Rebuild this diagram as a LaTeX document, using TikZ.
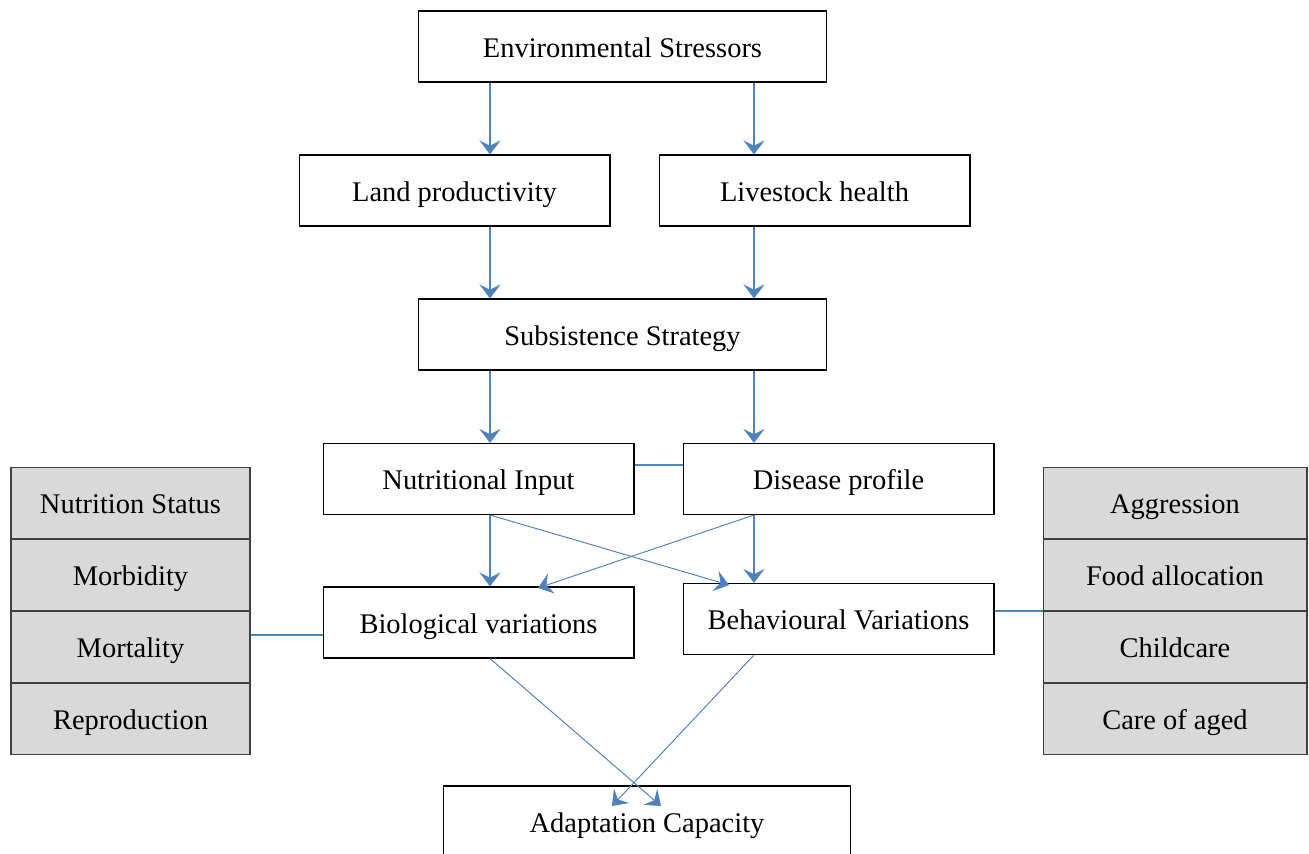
\documentclass[tikz,border=0pt]{standalone}
\usepackage{fontspec}
\setmainfont{Liberation Serif}
\usepackage{tikz}
\usetikzlibrary{positioning, arrows.meta}
\definecolor{linkblue}{HTML}{4F81BD}
\definecolor{cellgray}{HTML}{D9D9D9}

\begin{document}
\begin{tikzpicture}[x=0.02cm, y=-0.02cm,
  box/.style={draw, line width=0.6pt, minimum width=6.22cm, minimum height=1.42cm,
    inner sep=0pt, text height=12.5pt, text depth=0.5pt, font=\fontsize{16.2}{19}\selectfont},
  widebox/.style={box, minimum width=8.18cm},
  cellL/.style={draw=black!75, line width=0.6pt, fill=cellgray, minimum width=4.78cm,
    minimum height=1.42cm, inner sep=0pt, text height=12.5pt, text depth=0.5pt,
    font=\fontsize{16.2}{19}\selectfont},
  cellR/.style={cellL, minimum width=5.28cm},
  flow/.style={linkblue, line width=0.85pt, -{Stealth[length=8pt, width=12pt, inset=3pt]}},
  thinflow/.style={flow, line width=0.55pt},
  tie/.style={linkblue, line width=0.7pt}]
\useasboundingbox (0,0) rectangle (1309,854);

% columns of the vertical arrows
\coordinate (colL) at (490,0);
\coordinate (colR) at (754,0);

% main chain
\node[widebox] (env)   at (622.5,46.5)  {Environmental Stressors};
\node[box]     (land)  at (454.5,190.5) {Land productivity};
\node[box]     (live)  at (814.5,190.5) {Livestock health};
\node[widebox] (subs)  at (622.5,334.5) {Subsistence Strategy};
\node[box]     (nutr)  at (478.5,479)   {Nutritional Input};
\node[box]     (dis)   at (838.5,479)   {Disease profile};
\node[box]     (bio)   at (478.5,622.5) {Biological variations};
\node[box]     (behav) at (838.5,619)   {Behavioural Variations};
\node[widebox, minimum width=8.16cm] (adapt) at (647,821.5) {Adaptation Capacity};

% biological outcomes
\node[cellL] (nstat) at (130.5,503) {Nutrition Status};
\node[cellL, below=0pt of nstat] (morb)  {Morbidity};
\node[cellL, below=0pt of morb]  (mort)  {Mortality};
\node[cellL, below=0pt of mort]  (repro) {Reproduction};

% behavioural outcomes
\node[cellR] (aggr) at (1175,503) {Aggression};
\node[cellR, below=0pt of aggr]  (food)  {Food allocation};
\node[cellR, below=0pt of food]  (child) {Childcare};
\node[cellR, below=0pt of child] (aged)  {Care of aged};

% vertical arrows
\draw[flow] (env.south -| colL)  -- (land.north -| colL);
\draw[flow] (env.south -| colR)  -- (live.north -| colR);
\draw[flow] (land.south -| colL) -- (subs.north -| colL);
\draw[flow] (live.south -| colR) -- (subs.north -| colR);
\draw[flow] (subs.south -| colL) -- (nutr.north -| colL);
\draw[flow] (subs.south -| colR) -- (dis.north -| colR);
\draw[flow] (nutr.south -| colL) -- (bio.north -| colL);
\draw[flow] (dis.south -| colR)  -- (behav.north -| colR);

% crossing arrows
\coordinate (tipBeh) at (729,585);
\coordinate (tipBio) at (538,588);
\coordinate (tipAdL) at (612,806);
\coordinate (tipAdR) at (661,806);
\draw[thinflow] (nutr.south -| colL)  -- (tipBeh);
\draw[thinflow] (dis.south -| colR)   -- (tipBio);
\draw[thinflow] (bio.south -| colL)   -- (tipAdR);
\draw[thinflow] (behav.south -| colR) -- (tipAdL);

% plain links
\coordinate (lvlN) at (0,465);
\coordinate (lvlM) at (0,635);
\draw[tie] (nutr.east |- lvlN) -- (dis.west |- lvlN);
\draw[tie] (mort.east |- lvlM) -- (bio.west |- lvlM);
\draw[tie] (behav.east |- child.north west) -- (child.north west);
\end{tikzpicture}
\end{document}
